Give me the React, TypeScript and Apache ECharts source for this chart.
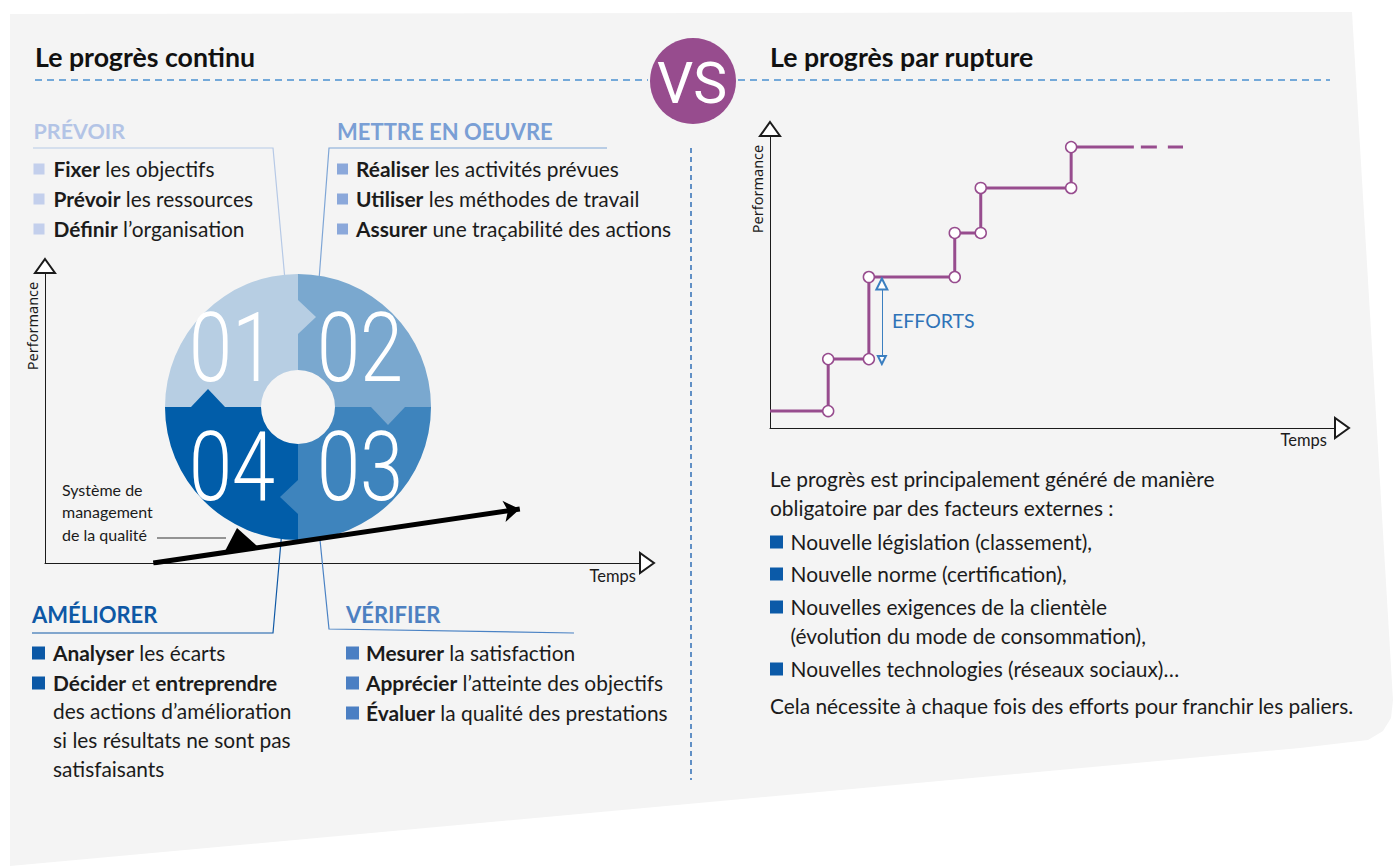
import React, { useEffect, useRef } from "react";
import * as echarts from "echarts";

// ---------------- data ----------------
const wheelPhases = ["01", "02", "03", "04"];
const wheelShares = [1, 1, 1, 1];

const prevoirItems = [["{b|Fixer} les objectifs"], ["{b|Prévoir} les ressources"], ["{b|Définir} l’organisation"]];
const mettreItems = [
  ["{b|Réaliser} les activités prévues"],
  ["{b|Utiliser} les méthodes de travail"],
  ["{b|Assurer} une traçabilité des actions"],
];
const ameliorerItems = [
  ["{b|Analyser} les écarts"],
  ["{b|Décider} et {b|entreprendre}", "des actions d’amélioration", "si les résultats ne sont pas", "satisfaisants"],
];
const verifierItems = [
  ["{b|Mesurer} la satisfaction"],
  ["{b|Apprécier} l’atteinte des objectifs"],
  ["{b|Évaluer} la qualité des prestations"],
];
const ruptureIntro = ["Le progrès est principalement généré de manière", "obligatoire par des facteurs externes :"];
const ruptureFactors = [
  ["Nouvelle législation (classement),"],
  ["Nouvelle norme (certification),"],
  ["Nouvelles exigences de la clientèle", "(évolution du mode de consommation),"],
  ["Nouvelles technologies (réseaux sociaux)…"],
];
const ruptureConclusion = "Cela nécessite à chaque fois des efforts pour franchir les paliers.";
const qmsLabel = ["Système de", "management", "de la qualité"];

// continuous progress (left chart, units 0-100)
const qualityStart = [18.2, 0];
const qualityEnd = [79.8, 18.6];

// breakthrough progress (right chart, units 0-100)
const ruptureTimes = [10.3, 17.5, 32.7, 37.3, 53.3];
const ruptureLevels = [5.8, 23.6, 51.7, 66.8, 82.2, 96.2];
const ruptureEnd = 64.4;
const ruptureProjectionEnd = 73.1;
const effortsTime = 19.8;
const effortsRange = [49.3, 23.3];

// ---------------- styles ----------------
const FONT = "Lato, 'Noto Sans', sans-serif";
const INK = "#1b1b1b";
const BODY = 20.9;
const wheelColors = ["#b7cee3", "#7aa8cf", "#3e84bd", "#015da9"];
const PURPLE = "#974c8e";

function txt(x: number, y: number, text: string, extra: any = {}, z = 10): any {
  const size = extra.fontSize || BODY;
  return {
    type: "text",
    x,
    y,
    z,
    silent: true,
    style: {
      text,
      fontFamily: FONT,
      fontSize: BODY,
      fill: INK,
      align: "left",
      verticalAlign: "middle",
      rich: { b: { fontFamily: FONT, fontSize: size, fontWeight: "bold", fill: INK } },
      ...extra,
    },
  };
}

function list(items: string[][], ys: number[], sqX: number, txX: number, sq: number, color: string): any[] {
  const out: any[] = [];
  let k = 0;
  items.forEach((lines) => {
    lines.forEach((line, j) => {
      const y = ys[k++];
      if (j === 0) {
        out.push({
          type: "rect",
          z: 10,
          silent: true,
          shape: { x: sqX, y: y - sq / 2 + 1, width: sq, height: sq },
          style: { fill: color },
        });
      }
      out.push(txt(txX, y, line));
    });
  });
  return out;
}

function buildOption(): any {
  const cx = 298;
  const cy = 407;
  // puzzle notches: each phase points into the next one
  const notchDirs = [
    { u: [0, -1], v: [1, 0] },
    { u: [1, 0], v: [0, 1] },
    { u: [0, 1], v: [-1, 0] },
    { u: [-1, 0], v: [0, -1] },
  ];
  const d = 90;
  const hw = 17;
  const depth = 18;
  const notches = notchDirs.map((n, i) => ({
    type: "polygon",
    z: 8,
    silent: true,
    shape: {
      points: [
        [cx + n.u[0] * (d - hw), cy + n.u[1] * (d - hw)],
        [cx + n.u[0] * d + n.v[0] * depth, cy + n.u[1] * d + n.v[1] * depth],
        [cx + n.u[0] * (d + hw), cy + n.u[1] * (d + hw)],
      ],
    },
    style: { fill: wheelColors[i] },
  }));
  const digitPos = [
    [cx - 109, cy - 59],
    [cx + 19, cy - 59],
    [cx + 19, cy + 60],
    [cx - 109, cy + 60],
  ];
  const digits = wheelPhases.map((p, i) => ({
    type: "text",
    z: 9,
    silent: true,
    x: digitPos[i][0],
    y: digitPos[i][1],
    scaleX: 0.8,
    style: {
      text: p,
      fontFamily: "Roboto, Lato, sans-serif",
      fontWeight: 300,
      fontSize: 97,
      fill: "#ffffff",
      align: "left",
      verticalAlign: "middle",
    },
  }));

  const stepData: any[] = [{ value: [0, ruptureLevels[0]], symbol: "none" }];
  ruptureTimes.forEach((t, i) => {
    stepData.push([t, ruptureLevels[i]]);
    stepData.push([t, ruptureLevels[i + 1]]);
  });
  stepData.push({ value: [ruptureEnd, ruptureLevels[ruptureLevels.length - 1]], symbol: "none" });

  const axisCommon = (min: number, max: number) => ({
    type: "value",
    min,
    max,
    splitLine: { show: false },
    axisTick: { show: false },
    axisLabel: { show: false },
    axisLine: {
      show: true,
      onZero: false,
      lineStyle: { color: "#1b1b1b", width: 1 },
      symbol: ["none", "emptyTriangle"],
      symbolSize: [20, 14],
      symbolOffset: [0, 7],
    },
  });

  const graphic: any[] = [
    // background panel
    {
      type: "polygon",
      z: 0,
      silent: true,
      shape: {
        points: [
          [10, 14],
          [1352, 12],
          [1393, 700],
          [1391, 718],
          [1383, 731],
          [1368, 740],
          [1300, 748],
          [10, 866],
        ],
      },
      style: { fill: "#f4f4f4" },
    },
    // headers
    txt(35, 57, "Le progrès continu", { fontSize: 26.7, fontWeight: "bold", fill: "#111" }),
    txt(770, 57, "Le progrès par rupture", { fontSize: 26.7, fontWeight: "bold", fill: "#111" }),
    {
      type: "line",
      z: 1,
      silent: true,
      shape: { x1: 35, y1: 80, x2: 648, y2: 80 },
      style: { stroke: "#4a90d0", lineWidth: 1.5, lineDash: [7, 5] },
    },
    {
      type: "line",
      z: 1,
      silent: true,
      shape: { x1: 738, y1: 80, x2: 1330, y2: 80 },
      style: { stroke: "#4a90d0", lineWidth: 1.5, lineDash: [7, 5] },
    },
    {
      type: "line",
      z: 1,
      silent: true,
      shape: { x1: 691, y1: 148, x2: 691, y2: 780 },
      style: { stroke: "#2f6db5", lineWidth: 1.5, lineDash: [5, 4] },
    },
    { type: "circle", z: 10, silent: true, shape: { cx: 693, cy: 81, r: 43 }, style: { fill: PURPLE } },
    {
      type: "text",
      z: 11,
      silent: true,
      x: 692,
      y: 83,
      style: {
        text: "VS",
        fontFamily: "Roboto, Lato, sans-serif",
        fontSize: 57,
        fill: "#fff",
        align: "center",
        verticalAlign: "middle",
      },
    },
    // phase headings + connectors
    txt(33.5, 131, "PRÉVOIR", { fontSize: 21.5, fontWeight: "bold", fill: "#b3c4e6" }),
    txt(337, 131, "METTRE EN OEUVRE", { fontSize: 22, fontWeight: "bold", fill: "#7a9fd5" }),
    txt(32, 614, "AMÉLIORER", { fontSize: 22, fontWeight: "bold", fill: "#0e58a5" }),
    txt(346, 614, "VÉRIFIER", { fontSize: 22, fontWeight: "bold", fill: "#4d80c1" }),
    {
      type: "polyline",
      z: 1,
      silent: true,
      shape: { points: [[33, 148], [273, 148], [285, 280]] },
      style: { stroke: "#b6c9e6", lineWidth: 1.2, fill: null },
    },
    {
      type: "polyline",
      z: 1,
      silent: true,
      shape: { points: [[607, 148], [329, 148], [319, 280]] },
      style: { stroke: "#7fa6d6", lineWidth: 1.2, fill: null },
    },
    {
      type: "polyline",
      z: 1,
      silent: true,
      shape: { points: [[282, 530], [273, 633], [32, 633]] },
      style: { stroke: "#0e58a5", lineWidth: 1.2, fill: null },
    },
    {
      type: "polyline",
      z: 1,
      silent: true,
      shape: { points: [[319, 530], [329, 629], [574, 633]] },
      style: { stroke: "#4a82c4", lineWidth: 1.2, fill: null },
    },
    ...list(prevoirItems, [168, 198, 228], 33.5, 53.5, 11, "#c3cfec"),
    ...list(mettreItems, [168, 198, 228], 337, 356, 11, "#8ba8da"),
    ...list(ameliorerItems, [652, 682, 710, 739, 768], 32, 53, 13, "#0b58a6"),
    ...list(verifierItems, [652, 682, 712], 346, 366, 13, "#4b7fc3"),
    ...notches,
    ...digits,
    // left chart annotations
    txt(32, 326, "Performance", { fontSize: 14.5, align: "center", fontFamily: "'Noto Sans', sans-serif" }),
    txt(636, 576, "Temps", { fontSize: 16.5, align: "right" }),
    ...qmsLabel.map((l, i) => txt(62, 489 + i * 22.5, l, { fontSize: 16 })),
    {
      type: "line",
      z: 10,
      silent: true,
      shape: { x1: 157, y1: 538, x2: 226, y2: 538 },
      style: { stroke: "#333", lineWidth: 1 },
    },
    {
      type: "polygon",
      z: 10,
      silent: true,
      shape: { points: [[225, 551], [237, 528], [257, 546]] },
      style: { fill: "#000" },
    },
    // right chart annotations
    txt(757, 189, "Performance", { fontSize: 14.5, align: "center", fontFamily: "'Noto Sans', sans-serif" }),
    txt(1327, 440, "Temps", { fontSize: 16.5, align: "right" }),
    txt(892, 320, "EFFORTS", { fontSize: 19.5, fill: "#2e73b8" }),
    // right text
    txt(770, 478, ruptureIntro[0]),
    txt(770, 507, ruptureIntro[1]),
    ...list(ruptureFactors, [541, 573, 606, 635, 668], 770, 790.5, 13, "#0b5aa8"),
    txt(770, 705, ruptureConclusion),
  ];
  // rotate the "Performance" labels
  graphic.forEach((g) => {
    if (g.type === "text" && g.style.text === "Performance") g.rotation = Math.PI / 2;
  });

  return {
    animation: false,
    backgroundColor: "#ffffff",
    grid: [
      { left: 45, top: 273, width: 595, height: 290 },
      { left: 770, top: 136, width: 565, height: 292 },
    ],
    xAxis: [
      { ...axisCommon(0, 100), gridIndex: 0 },
      { ...axisCommon(0, 100), gridIndex: 1 },
    ],
    yAxis: [
      { ...axisCommon(0, 100), gridIndex: 0 },
      { ...axisCommon(0, 100), gridIndex: 1 },
    ],
    graphic,
    series: [
      {
        type: "pie",
        silent: true,
        z: 3,
        center: [cx, cy],
        radius: [37, 133],
        startAngle: 180,
        clockwise: true,
        label: { show: false },
        labelLine: { show: false },
        emphasis: { disabled: true },
        itemStyle: { borderWidth: 0 },
        data: wheelPhases.map((name, i) => ({
          name,
          value: wheelShares[i],
          itemStyle: { color: wheelColors[i] },
        })),
      },
      {
        type: "lines",
        coordinateSystem: "cartesian2d",
        xAxisIndex: 0,
        yAxisIndex: 0,
        silent: true,
        z: 12,
        symbol: ["none", "arrow"],
        symbolSize: [17, 16],
        lineStyle: { color: "#000", width: 5, opacity: 1 },
        data: [{ coords: [qualityStart, qualityEnd] }],
      },
      {
        type: "line",
        xAxisIndex: 1,
        yAxisIndex: 1,
        silent: true,
        z: 5,
        data: stepData,
        symbol: "circle",
        symbolSize: 11,
        showSymbol: true,
        lineStyle: { color: PURPLE, width: 3 },
        itemStyle: { color: "#ffffff", borderColor: PURPLE, borderWidth: 1.5 },
      },
      {
        type: "line",
        xAxisIndex: 1,
        yAxisIndex: 1,
        silent: true,
        z: 4,
        symbol: "none",
        data: [
          [ruptureEnd, ruptureLevels[ruptureLevels.length - 1]],
          [ruptureProjectionEnd, ruptureLevels[ruptureLevels.length - 1]],
        ],
        lineStyle: { color: PURPLE, width: 3, type: [16, 11], dashOffset: 20 },
      },
      {
        type: "lines",
        coordinateSystem: "cartesian2d",
        xAxisIndex: 1,
        yAxisIndex: 1,
        silent: true,
        z: 6,
        symbol: ["emptyTriangle", "emptyTriangle"],
        symbolSize: [11, 8],
        lineStyle: { color: "#3b7fc0", width: 1, opacity: 1 },
        data: [{ coords: [[effortsTime, effortsRange[0]], [effortsTime, effortsRange[1]]] }],
      },
    ],
  };
}

export default function App() {
  const ref = useRef<HTMLDivElement>(null);
  useEffect(() => {
    const el = ref.current;
    if (!el) return;
    const chart = echarts.init(el, null, { renderer: "svg" });
    chart.setOption(buildOption());
    return () => chart.dispose();
  }, []);
  return (
    <div
      ref={ref}
      style={{ position: "fixed", left: 0, top: 0, width: 1394, height: 866 }}
    />
  );
}
